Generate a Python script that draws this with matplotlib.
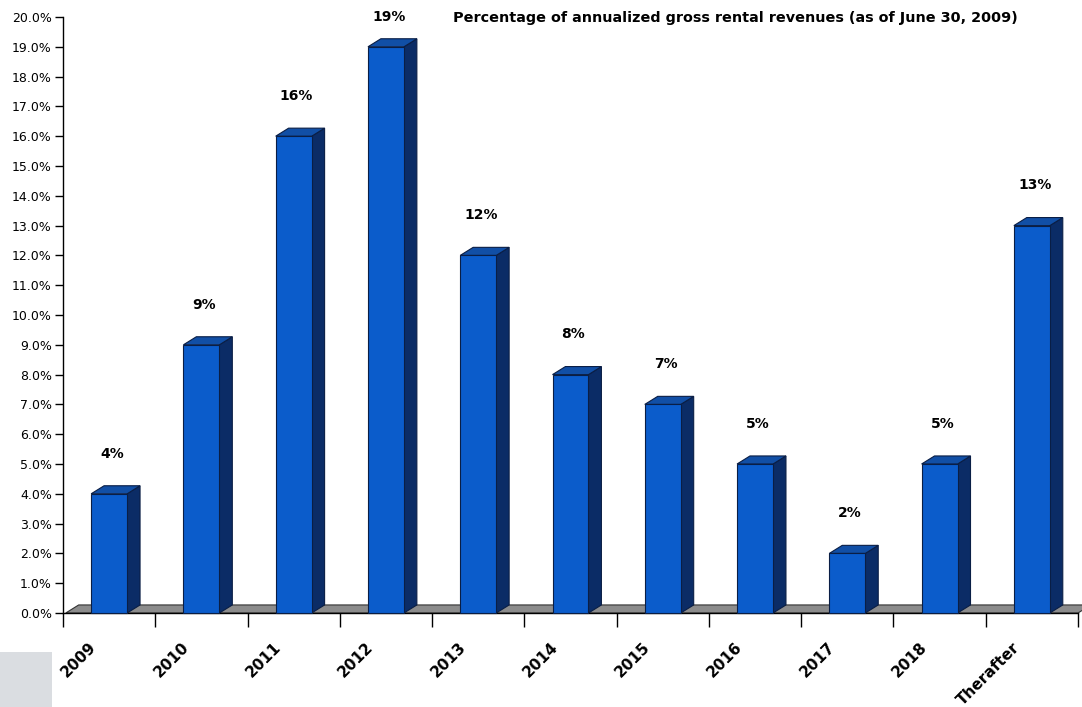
import matplotlib
matplotlib.use("Agg")
import matplotlib.pyplot as plt
from matplotlib.patches import Polygon, Rectangle

categories = ["2009", "2010", "2011", "2012", "2013", "2014", "2015",
              "2016", "2017", "2018", "Therafter"]
values = [4, 9, 16, 19, 12, 8, 7, 5, 2, 5, 13]
value_labels = ["4%", "9%", "16%", "19%", "12%", "8%", "7%", "5%", "2%", "5%", "13%"]
title = "Percentage of annualized gross rental revenues (as of June 30, 2009)"

W, H = 1082, 707
fig = plt.figure(figsize=(W / 100, H / 100), dpi=100)
fig.patch.set_facecolor("white")

x0, x1, y0, y1 = 63, 1078, 613, 17
ax = fig.add_axes([x0 / W, (H - y0) / H, (x1 - x0) / W, (y0 - y1) / H])
ax.set_xlim(0, len(categories))
ax.set_ylim(0, 20)
ax.set_facecolor("none")

front = "#0B5CCB"
side = "#0B2C66"
top = "#114FA6"
edge = "#0A1E45"

bar_w = 0.39
dx = 0.14   # depth offset in category units
dy = 0.27   # depth offset in value units

# floor
floor = Polygon([(0.03, 0), (len(categories), 0), (len(categories) + dx, dy), (0.03 + dx, dy)],
                closed=True, facecolor="#8C8C8C", edgecolor="#333333", lw=0.8,
                clip_on=False, zorder=1)
ax.add_patch(floor)

for i, v in enumerate(values):
    left = i + 0.5 - bar_w / 2
    right = left + bar_w
    ax.add_patch(Polygon([(right, 0), (right + dx, dy), (right + dx, v + dy), (right, v)],
                         closed=True, facecolor=side, edgecolor=edge, lw=0.8, zorder=2,
                         clip_on=False))
    ax.add_patch(Polygon([(left, v), (left + dx, v + dy), (right + dx, v + dy), (right, v)],
                         closed=True, facecolor=top, edgecolor=edge, lw=0.8, zorder=2,
                         clip_on=False))
    ax.add_patch(Rectangle((left, 0), bar_w, v, facecolor=front, edgecolor=edge,
                           lw=0.8, zorder=3, clip_on=False))
    ly = min(v + 1.35, 20.0)
    ax.text(i + 0.5 + 0.03, ly, value_labels[i], ha="center", va="center",
            fontsize=10, fontweight="bold", color="black", clip_on=False)

for s in ["top", "right"]:
    ax.spines[s].set_visible(False)
ax.spines["left"].set_linewidth(1.0)
ax.spines["bottom"].set_linewidth(1.0)

ax.set_yticks(range(0, 21))
ax.set_yticklabels([f"{t:.1f}%" for t in range(0, 21)], fontsize=9)
ax.tick_params(axis="y", direction="out", length=6, width=1, pad=2)

ax.set_xticks(range(0, len(categories) + 1))
ax.set_xticklabels([])
ax.tick_params(axis="x", direction="out", length=10, width=1)

for i, c in enumerate(categories):
    ax.text(i + 0.5 - 0.22, -0.9, c, rotation=45, ha="right", va="top",
            rotation_mode="anchor", fontsize=11, fontweight="bold",
            family="DejaVu Sans Condensed", color="black")

fig.text(453 / W, 1 - 18 / H, title, ha="left", va="center",
         fontsize=10.4, fontweight="bold")

fig.patches.append(Rectangle((0, 0), 52 / W, 55 / H, transform=fig.transFigure,
                             facecolor="#DADDE1", edgecolor="none", zorder=0))

fig.savefig("out.png", dpi=100)
